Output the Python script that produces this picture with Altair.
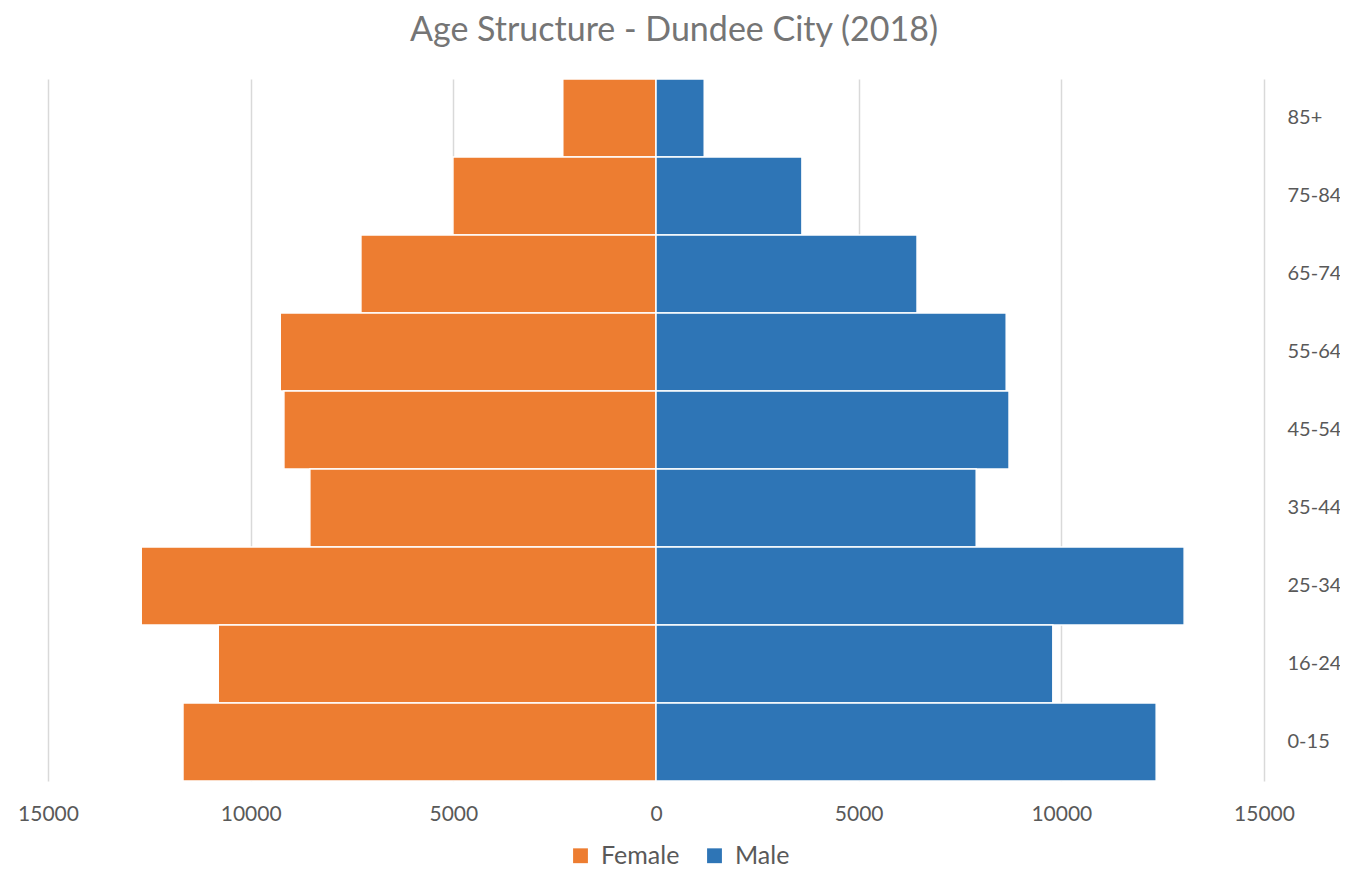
import altair as alt
import pandas as pd

ages = ["85+", "75-84", "65-74", "55-64", "45-54", "35-44", "25-34", "16-24", "0-15"]
female = [2300, 5010, 7280, 9270, 9180, 8540, 12700, 10800, 11670]
male = [1190, 3600, 6440, 8640, 8710, 7900, 13030, 9790, 12340]
axis_ticks = [-15000, -10000, -5000, 0, 5000, 10000, 15000]

rows = []
for a, f, m in zip(ages, female, male):
    rows.append({"age": a, "sex": "Female", "value": -f})
    rows.append({"age": a, "sex": "Male", "value": m})
df = pd.DataFrame(rows)

FONT = "Lato"
TEXT = "#595959"

chart = alt.Chart(df).mark_bar(stroke="white", strokeWidth=1.5).encode(
    x=alt.X("value:Q",
            scale=alt.Scale(domain=[-15000, 15000], nice=False),
            axis=alt.Axis(values=axis_ticks, labelExpr="abs(datum.value)", title=None,
                          domain=False, ticks=False, grid=True, gridColor="#D9D9D9",
                          gridWidth=1.5, labelFontSize=21, labelColor=TEXT, labelFont=FONT,
                          labelPadding=22, labelFlush=False)),
    y=alt.Y("age:N", sort=ages,
            scale=alt.Scale(paddingInner=0, paddingOuter=0),
            axis=alt.Axis(orient="right", title=None, domain=False, ticks=False,
                          labelFontSize=20, labelColor=TEXT, labelFont=FONT,
                          labelPadding=23, labelAlign="left")),
    color=alt.Color("sex:N",
                    scale=alt.Scale(domain=["Female", "Male"], range=["#ED7D31", "#2E75B6"]),
                    legend=alt.Legend(title=None, orient="none", direction="horizontal",
                                      legendX=520, legendY=764, symbolType="square",
                                      symbolSize=220, symbolStrokeWidth=0,
                                      labelFontSize=25, labelColor=TEXT, labelFont=FONT,
                                      columnPadding=22, labelOffset=8)),
).properties(
    width=1216,
    height=702,
    title=alt.TitleParams("Age Structure - Dundee City (2018)", fontSize=34, font=FONT,
                          color="#757575", fontWeight="normal", anchor="middle",
                          dx=18, offset=30),
    padding={"left": 40, "top": 71, "right": 76, "bottom": 89},
    autosize=alt.AutoSizeParams(type="none"),
).configure_view(stroke=None)

chart.save("out.html", embed_options={"renderer": "svg", "actions": False})
